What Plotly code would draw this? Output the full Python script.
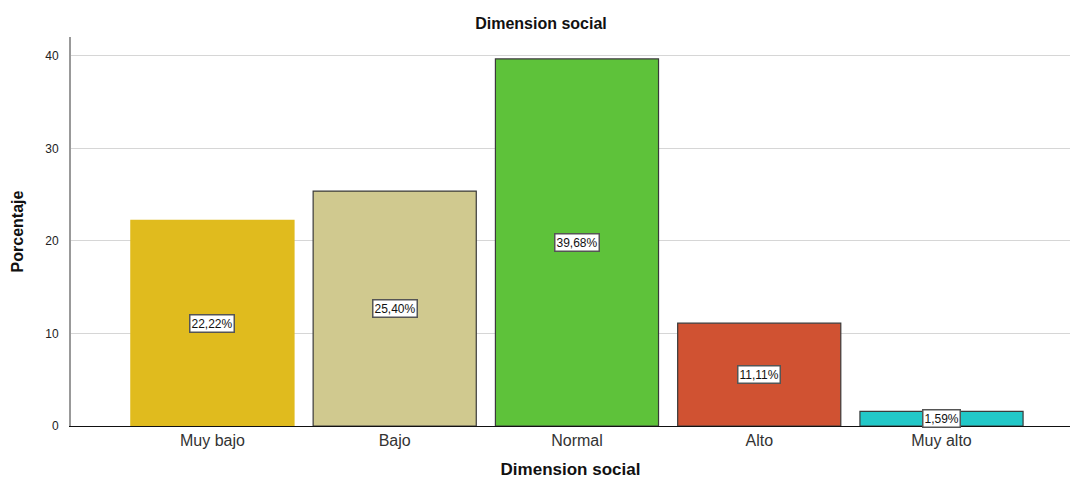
import plotly.graph_objects as go

categories = ["Muy bajo", "Bajo", "Normal", "Alto", "Muy alto"]
values = [22.22, 25.40, 39.68, 11.11, 1.59]
labels = ["22,22%", "25,40%", "39,68%", "11,11%", "1,59%"]
colors = ["#E0BB1E", "#D0C98F", "#5EC23A", "#D05232", "#22C8C8"]
outline = ["#E0BB1E", "#3a3a3a", "#3a3a3a", "#3a3a3a", "#3a3a3a"]
y_ticks = [0, 10, 20, 30, 40]

fig = go.Figure()
fig.add_trace(go.Bar(
    x=list(range(len(categories))), y=values,
    marker=dict(color=colors, line=dict(color=outline, width=1.2)),
    width=0.895, hoverinfo="skip",
))

for i, (v, t) in enumerate(zip(values, labels)):
    fig.add_annotation(x=i, y=v / 2, text=t, showarrow=False,
                       font=dict(family="Liberation Sans, Arial", size=12, color="#111"),
                       bgcolor="white", bordercolor="#555", borderwidth=1.5, borderpad=1)

fig.update_layout(
    width=1074, height=483,
    margin=dict(l=71, r=4, t=37, b=57),
    paper_bgcolor="white", plot_bgcolor="white",
    showlegend=False,
    title=dict(text="<b>Dimension social</b>", x=541/1074, xref="container", xanchor="center",
               y=1 - 23/483, yref="container", yanchor="middle",
               font=dict(family="Liberation Sans, Arial", size=16, color="#111")),
    font=dict(family="Liberation Sans, Arial", color="#222"),
)
fig.update_xaxes(
    range=[-0.776, 4.705],
    tickmode="array", tickvals=list(range(len(categories))), ticktext=categories,
    tickfont=dict(size=16, color="#333"),
    showline=True, linecolor="#111", linewidth=1,
    showgrid=False, ticks="",
    title=dict(text="<b>Dimension social</b>", font=dict(size=17, color="#111"), standoff=14),
)
fig.update_yaxes(
    range=[0, 42.05],
    tickmode="array", tickvals=y_ticks,
    tickfont=dict(size=12, color="#222"),
    showline=True, linecolor="#999", linewidth=2,
    showgrid=True, gridcolor="#d6d6d6", gridwidth=1,
    zeroline=False, ticks="", ticklabelstandoff=8,
    title=dict(text="<b>Porcentaje</b>", font=dict(family="Liberation Sans Narrow, Arial Narrow, Liberation Sans", size=16, color="#111"), standoff=18),
)

fig.write_html("out.html")
